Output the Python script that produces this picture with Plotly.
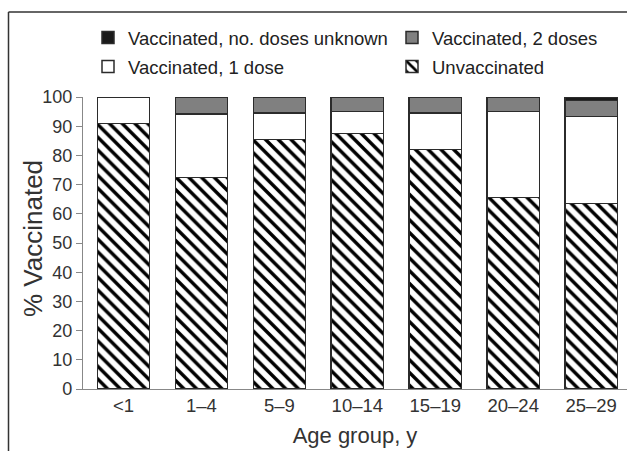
import plotly.graph_objects as go

categories = ["<1", "1–4", "5–9", "10–14", "15–19", "20–24", "25–29"]
unvaccinated = [91.0, 72.5, 85.5, 87.5, 82.0, 65.5, 63.5]
one_dose = [9.0, 21.7, 9.0, 7.5, 12.5, 29.5, 29.8]
two_doses = [0.0, 5.8, 5.5, 5.0, 5.5, 5.0, 5.5]
unknown_doses = [0.0, 0.0, 0.0, 0.0, 0.0, 0.0, 1.2]

FONT = "Liberation Sans, Arial, sans-serif"
line = dict(color="#2b2b2b", width=1.5)
W = 0.67

# pixel helpers (plot area: x 83..627, y 97..389)
px_x = lambda px: (px - 83) / 544
px_y = lambda py: (389 - py) / 292

fig = go.Figure()
fig.add_trace(go.Bar(x=categories, y=unvaccinated, name="Unvaccinated", width=W,
                     marker=dict(color="white", line=line,
                                 pattern=dict(shape="\\", fgcolor="#000", bgcolor="white",
                                              fgopacity=1, size=9, solidity=0.38,
                                              fillmode="overlay")),
                     legend="legend4"))
fig.add_trace(go.Bar(x=categories, y=one_dose, name="Vaccinated, 1 dose", width=W,
                     marker=dict(color="white", line=line), legend="legend3"))
fig.add_trace(go.Bar(x=categories, y=two_doses, name="Vaccinated, 2 doses", width=W,
                     marker=dict(color="#808080", line=line), legend="legend2"))
fig.add_trace(go.Bar(x=categories, y=unknown_doses, name="Vaccinated, no. doses unknown", width=W,
                     marker=dict(color="#1a1a1a", line=line), legend="legend"))

def leg(xpx, ypx):
    return dict(x=px_x(xpx), y=px_y(ypx), xanchor="left", yanchor="middle",
                orientation="h", itemwidth=30,
                font=dict(family=FONT, size=18.5, color="#222"),
                bgcolor="rgba(0,0,0,0)")

fig.update_layout(
    width=627, height=451,
    margin=dict(l=83, r=0, t=97, b=62, autoexpand=False),
    paper_bgcolor="white", plot_bgcolor="white",
    barmode="stack",
    showlegend=True,
    font=dict(family=FONT, size=18, color="#333"),
    legend=leg(88, 38),
    legend2=leg(392, 38),
    legend3=leg(88, 67),
    legend4=leg(392, 67),
    xaxis=dict(range=[-0.52, 6.46], showline=True, linecolor="#888", linewidth=1.2,
               ticks="", tickfont=dict(size=18.5, color="#333"), automargin=False,
               title=dict(text="Age group, y", font=dict(size=22, color="#333"), standoff=12)),
    yaxis=dict(range=[0, 100], dtick=10, showline=True, linecolor="#888", linewidth=1.2,
               ticks="outside", ticklen=6, tickcolor="#888", showgrid=False, zeroline=False,
               tickfont=dict(size=18, color="#333"), automargin=False),
    annotations=[
        dict(text="% Vaccinated", textangle=-90, xref="paper", yref="paper",
             x=px_x(33), y=px_y(239), xanchor="center", yanchor="middle", showarrow=False,
             font=dict(family=FONT, size=26, color="#333")),
    ],
    shapes=[
        dict(type="line", xref="paper", yref="paper", x0=px_x(8.5), x1=px_x(640), y0=px_y(12), y1=px_y(12),
             line=dict(color="#333", width=1.5)),
        dict(type="line", xref="paper", yref="paper", x0=px_x(8.5), x1=px_x(8.5), y0=px_y(12), y1=px_y(460),
             line=dict(color="#333", width=1.5)),
    ],
)

fig.write_html("out.html", config={"displayModeBar": False},
               post_script="document.body.style.margin='0';")
